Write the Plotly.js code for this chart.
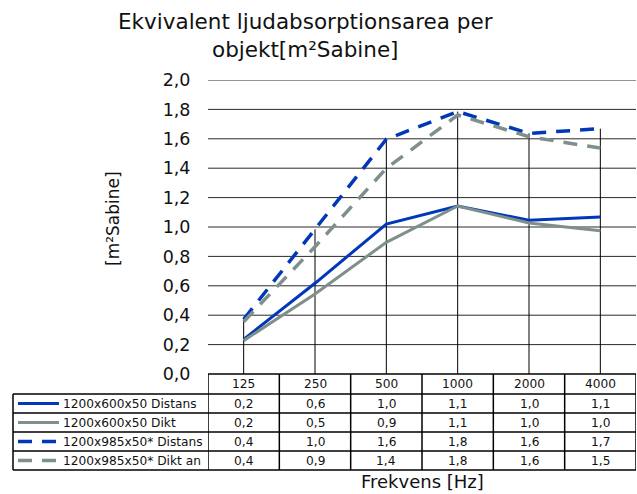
<!DOCTYPE html>
<html><head><meta charset="utf-8">
<script src="https://cdn.plot.ly/plotly-3.0.1.min.js"></script>
<style>html,body{margin:0;padding:0;background:#fff}</style>
</head><body><div id="chart" style="width:637px;height:494px"></div>
<script>
// ---- data ----
const categories = ['125', '250', '500', '1000', '2000', '4000'];
const seriesNames = ['1200x600x50 Distans', '1200x600x50 Dikt', '1200x985x50* Distans', '1200x985x50* Dikt an'];
const distans600 = [0.236, 0.617, 1.020, 1.143, 1.046, 1.068];
const dikt600 = [0.227, 0.544, 0.896, 1.143, 1.027, 0.975];
const distans985 = [0.372, 0.984, 1.597, 1.785, 1.637, 1.669];
const dikt985 = [0.356, 0.866, 1.399, 1.762, 1.614, 1.537];
const yTicks = [0, 0.2, 0.4, 0.6, 0.8, 1.0, 1.2, 1.4, 1.6, 1.8, 2.0];
const titleText = 'Ekvivalent ljudabsorptionsarea per<br>objekt[m²Sabine]';
const yTitle = '[m²Sabine]';
const xTitle = 'Frekvens [Hz]';

// ---- styles ----
const allSeries = [distans600, dikt600, distans985, dikt985];
const colors = ['#0038b8', '#7f8f8c', '#0038b8', '#7f8f8c'];
const dashes = ['solid', 'solid', '14px,10px', '14px,10px'];
const widths = [3, 3, 3.5, 3.5];
const FONT = 'DejaVu Sans, Verdana, sans-serif';

const W = 637, H = 494, L = 208, R = 636, T = 80, B = 374;
const px = v => (v - L) / (R - L);
const py = v => (B - v) / (B - T);

const traces = allSeries.map((s, i) => ({
  type: 'scatter', mode: 'lines', x: categories, y: s, name: seriesNames[i],
  line: {color: colors[i], width: widths[i], dash: dashes[i]},
  hoverinfo: 'skip', cliponaxis: false
}));

const shapes = [];
const annotations = [];
const lineBlack = {color: '#000', width: 1.5};

// horizontal gridlines
yTicks.filter(v => v > 0).forEach(v => shapes.push({
  type: 'line', xref: 'paper', yref: 'y', x0: 0, x1: 1, y0: v, y1: v,
  line: {color: '#2a2a2a', width: 1}, layer: 'below'
}));
// drop lines from max value to axis
categories.forEach((c, i) => {
  const m = Math.max(...allSeries.map(s => s[i]));
  shapes.push({type: 'line', xref: 'x', yref: 'y', x0: i, x1: i, y0: 0, y1: m,
    line: {color: '#000', width: 1}, layer: 'below'});
});

// data table
const headerTop = 374, headerBot = 394, rowH = 19, tableLeft = 13;
const rowTops = seriesNames.map((n, i) => headerBot + rowH * i);
const tableBot = headerBot + rowH * seriesNames.length;
shapes.push({type: 'line', xref: 'paper', yref: 'paper', x0: 0, x1: 1, y0: py(headerTop), y1: py(headerTop), line: lineBlack});
[headerBot, ...rowTops.map(t => t + rowH)].forEach(y => shapes.push({
  type: 'line', xref: 'paper', yref: 'paper', x0: px(tableLeft), x1: 1, y0: py(y), y1: py(y), line: lineBlack
}));
shapes.push({type: 'line', xref: 'paper', yref: 'paper', x0: px(tableLeft), x1: px(tableLeft), y0: py(headerBot), y1: py(tableBot), line: lineBlack});
for (let k = 0; k <= categories.length; k++) {
  shapes.push({type: 'line', xref: 'x', yref: 'paper', x0: k - 0.5, x1: k - 0.5, y0: py(headerTop), y1: py(tableBot), line: lineBlack});
}
const tFont = {family: FONT, size: 12.2, color: '#111'};
categories.forEach((c, i) => {
  annotations.push({xref: 'x', yref: 'paper', x: i, y: py((headerTop + headerBot) / 2), text: c,
    showarrow: false, xanchor: 'center', yanchor: 'middle', font: tFont});
});
allSeries.forEach((s, r) => {
  const yc = py(rowTops[r] + rowH / 2);
  s.forEach((v, i) => annotations.push({xref: 'x', yref: 'paper', x: i, y: yc,
    text: v.toFixed(1).replace('.', ','), showarrow: false, xanchor: 'center', yanchor: 'middle', font: tFont}));
  annotations.push({xref: 'paper', yref: 'paper', x: px(61), y: yc, text: seriesNames[r],
    showarrow: false, xanchor: 'left', yanchor: 'middle', font: tFont});
  shapes.push({type: 'line', xref: 'paper', yref: 'paper', x0: px(18), x1: px(r < 2 ? 59 : 56), y0: yc, y1: yc,
    line: {color: colors[r], width: widths[r], dash: dashes[r]}});
});

// title
annotations.push({xref: 'paper', yref: 'paper', x: px(305), y: py(7), text: titleText,
  showarrow: false, xanchor: 'center', yanchor: 'top', align: 'center',
  font: {family: FONT, size: 21.5, color: '#111'}});
// axis titles
annotations.push({xref: 'paper', yref: 'paper', x: px(113), y: py(219), text: yTitle, textangle: -90,
  showarrow: false, xanchor: 'center', yanchor: 'middle', font: {family: FONT, size: 17, color: '#111'}});
annotations.push({xref: 'paper', yref: 'paper', x: 0.5, y: py(481), text: xTitle,
  showarrow: false, xanchor: 'center', yanchor: 'middle', font: {family: FONT, size: 18, color: '#111'}});

const layout = {
  width: W, height: H,
  margin: {l: L, r: W - R, t: T, b: H - B, pad: 0},
  paper_bgcolor: '#fff', plot_bgcolor: '#fff',
  separators: ', ',
  showlegend: false,
  xaxis: {type: 'category', range: [-0.5, 5.5], showticklabels: false, showgrid: false,
    zeroline: false, showline: false, ticks: ''},
  yaxis: {range: [0, 2], tickvals: yTicks, tickformat: '.1f', showgrid: false, zeroline: false,
    showline: false, ticks: 'outside', ticklen: 13, tickcolor: 'rgba(0,0,0,0)',
    tickfont: {family: FONT, size: 17.5, color: '#111'}},
  shapes: shapes, annotations: annotations
};
Plotly.newPlot('chart', traces, layout, {displayModeBar: false, staticPlot: true});
</script></body></html>
